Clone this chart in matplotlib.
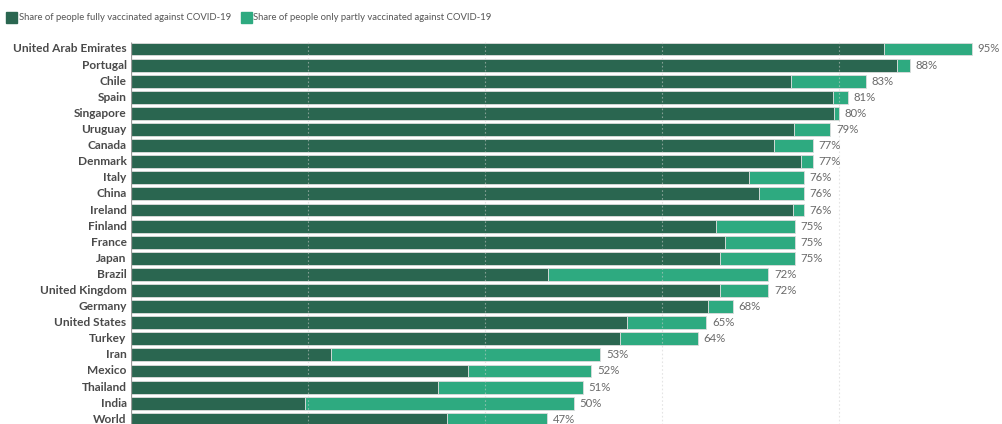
import matplotlib
matplotlib.use("Agg")
import matplotlib.pyplot as plt
from matplotlib.patches import Rectangle

countries = ["United Arab Emirates", "Portugal", "Chile", "Spain", "Singapore", "Uruguay",
             "Canada", "Denmark", "Italy", "China", "Ireland", "Finland", "France", "Japan",
             "Brazil", "United Kingdom", "Germany", "United States", "Turkey", "Iran",
             "Mexico", "Thailand", "India", "World"]
fully = [85.1, 86.5, 74.6, 79.3, 79.4, 74.9, 72.6, 75.7, 69.8, 70.9, 74.8, 66.1, 67.1, 66.5,
         47.1, 66.5, 65.2, 56.0, 55.2, 22.6, 38.1, 34.7, 19.7, 35.7]
total = [95, 88, 83, 81, 80, 79, 77, 77, 76, 76, 76, 75, 75, 75,
         72, 72, 68, 65, 64, 53, 52, 51, 50, 47]
partly = [t - f for t, f in zip(total, fully)]
legend_labels = ["Share of people fully vaccinated against COVID-19",
                 "Share of people only partly vaccinated against COVID-19"]
grid_ticks = [20, 40, 60, 80]

c_full = "#2a6650"
c_part = "#2eaa80"
FONT = "Lato"

W, H = 1003, 424
fig = plt.figure(figsize=(W / 100, H / 100), dpi=100)
x0 = 131
pxper = 8.853
ax = fig.add_axes([x0 / W, 0, (W - x0) / W, 1])
ax.set_xlim(0, (W - x0) / pxper)
spacing = 16.1
ybot = (H - 49) / spacing
ax.set_ylim(ybot, -49 / spacing)

y = list(range(len(countries)))
ax.barh(y, fully, height=0.8, color=c_full, edgecolor="#dcdcdc", linewidth=0.6, zorder=2)
ax.barh(y, partly, left=fully, height=0.8, color=c_part, edgecolor="#dcdcdc", linewidth=0.6, zorder=2)
ax.vlines(grid_ticks, -0.45, ybot, colors="#cfcfcf", linestyles=[(0, (1.5, 2))],
          linewidth=0.8, alpha=0.55, zorder=3)
ax.vlines([0], -0.45, ybot, colors="#9a9a9a", linewidth=0.9, zorder=4)

for yi, t in zip(y, total):
    ax.text(t + 0.65, yi, f"{t}%", ha="left", va="center", fontsize=8.2,
            family=FONT, color="#6a6a6a", clip_on=False)
for yi, c in zip(y, countries):
    ax.text(-0.5, yi, c, ha="right", va="center", fontsize=8.6, family=FONT,
            fontweight="bold", color="#4a4a4a", clip_on=False)

for s in ax.spines.values():
    s.set_visible(False)
ax.set_xticks([])
ax.set_yticks([])

# legend
ly = 17
fig.patches.append(Rectangle((6 / W, 1 - (ly + 5.5) / H), 11 / W, 11 / H,
                             transform=fig.transFigure, color=c_full))
fig.text(19 / W, 1 - ly / H, legend_labels[0], ha="left", va="center", fontsize=6.85,
         family=FONT, color="#555555")
fig.patches.append(Rectangle((241 / W, 1 - (ly + 5.5) / H), 11 / W, 11 / H,
                             transform=fig.transFigure, color=c_part))
fig.text(253 / W, 1 - ly / H, legend_labels[1], ha="left", va="center", fontsize=6.85,
         family=FONT, color="#555555")

fig.savefig("out.png", dpi=100)
